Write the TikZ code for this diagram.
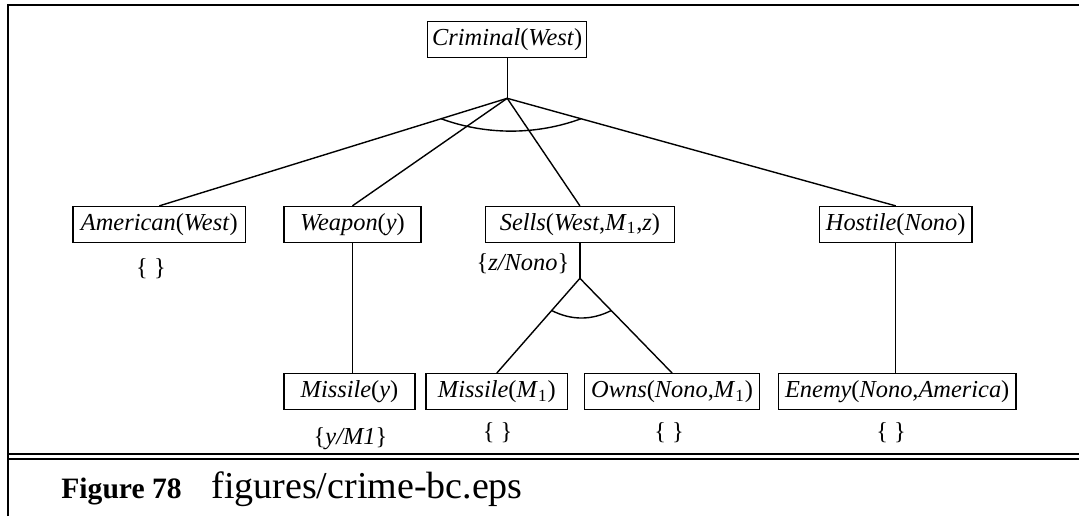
\documentclass[tikz,border=0pt]{standalone}
\usepackage{fontspec}
\setmainfont{Liberation Serif}
\usetikzlibrary{calc}

\tikzset{
  goal/.style={draw, line width=0.65pt, inner sep=0pt, minimum height=18pt,
    font=\fontsize{12.2}{14}\selectfont},
  subst/.style={inner sep=0pt, font=\fontsize{12.2}{14}\selectfont},
  treeline/.style={line width=0.7pt},
  pageline/.style={line width=1pt}
}

\begin{document}
\begin{tikzpicture}[x=0.5pt,y=-0.5pt]
  \useasboundingbox (0,0) rectangle (1079,516);
  % Page frame
  \draw[pageline] (7.5,516) -- (7.5,4.7) -- (1079,4.7);
  \draw[pageline] (7.5,454) -- (1079,454);
  \draw[pageline] (7.5,459.3) -- (1079,459.3);
  % Goal
  \node[goal, minimum width=79.5pt] (crim) at (507.2,39.2)
    {\textit{Criminal}(\textit{West})};
  % Conjuncts of the first rule
  \node[goal, minimum width=86.25pt] (amer) at (159.3,224.5)
    {\textit{American}(\textit{West})};
  \node[goal, minimum width=68.5pt] (weap) at (352.4,224.5)
    {\textit{Weapon}(\textit{y})};
  \node[goal, minimum width=94.5pt] (sells) at (579.9,224.5)
    {\textit{Sells}(\textit{West},\textit{M}\textsubscript{1},\textit{z})};
  \node[goal, minimum width=76.35pt] (host) at (895.7,224.5)
    {\textit{Hostile}(\textit{Nono})};
  % Second level
  \node[goal, minimum width=65.5pt] (missy) at (349.5,391.7)
    {\textit{Missile}(\textit{y})};
  \node[goal, minimum width=70.75pt] (missm) at (496.8,391.7)
    {\textit{Missile}(\textit{M}\textsubscript{1})};
  \node[goal, minimum width=87.3pt] (owns) at (672.1,391.7)
    {\textit{Owns}(\textit{Nono},\textit{M}\textsubscript{1})};
  \node[goal, minimum width=118.85pt] (enemy) at (897.2,391.7)
    {\textit{Enemy}(\textit{Nono},\textit{America})};
  % Substitutions
  \node[subst] (s-amer) at (151,268.5) {\{ \}};
  \node[subst] (s-sells) at (523,263.3) {\{\textit{z/Nono}\}};
  \node[subst] (s-missy) at (350.5,439) {\{\textit{y/M1}\}};
  \node[subst] (s-missm) at (497.6,432.7) {\{ \}};
  \node[subst] (s-owns) at (669,432.7) {\{ \}};
  \node[subst] (s-enemy) at (891,432.7) {\{ \}};
  % AND link of the first rule
  \coordinate (and1) at (crim.south |- 0,98.3);
  \draw[treeline] (crim.south) -- (and1);
  \foreach \n in {amer,weap,sells,host}
    \draw[treeline] (and1) -- (\n.north);
  \draw[treeline] ($(and1)!0.19!(amer.north)$) .. controls +(45,16.5) and +(-45,16.5) .. ($(and1)!0.19!(host.north)$);
  % AND link of the Sells rule
  \coordinate (and2) at (sells.south |- 0,278.3);
  \draw[treeline] (sells.south) -- (and2);
  \draw[treeline] (and2) -- (missm.north);
  \draw[treeline] (and2) -- (owns.north);
  \draw[treeline] ($(and2)!0.34!(missm.north)$) .. controls +(20,10) and +(-20,10) .. ($(and2)!0.34!(owns.north)$);
  % Single rules
  \draw[treeline] (weap.south) -- (weap.south |- missy.north);
  \draw[treeline] (host.south) -- (host.south |- enemy.north);
  % Caption
  \node[anchor=base west, inner sep=0pt, font=\bfseries\fontsize{14.8}{17}\selectfont]
    (fignum) at (61,498) {Figure 78};
  \node[anchor=base west, inner sep=0pt, font=\fontsize{19}{22}\selectfont]
    (figfile) at (211,498) {figures/crime-bc.eps};
\end{tikzpicture}
\end{document}
